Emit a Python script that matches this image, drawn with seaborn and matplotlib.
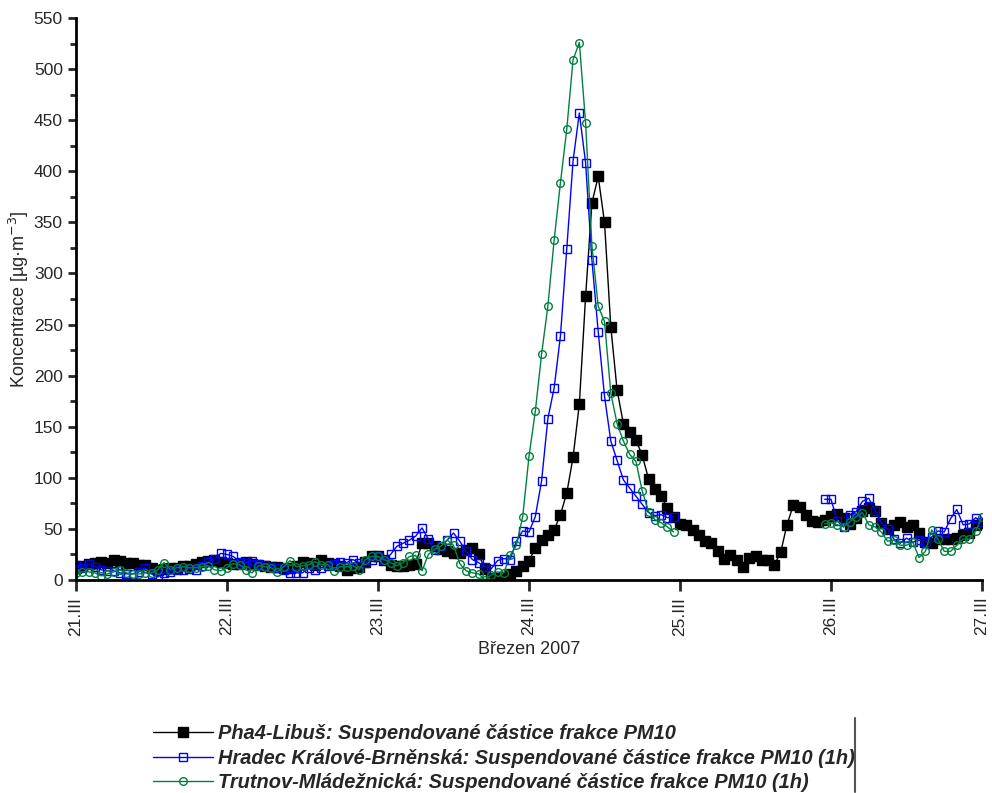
import numpy as np
import pandas as pd
import matplotlib
matplotlib.use("Agg")
import matplotlib.pyplot as plt
from matplotlib.lines import Line2D
import seaborn as sns

# hourly PM10 values, 21.III 00:00 .. 27.III 00:00 (145 points)
nan = np.nan
libus = [12, 14, 16, 17, 18, 17, 20, 19, 17, 17, 15, 15, 12, 10, 11, 12, 12, 14, 14, 16, 18, 19, 20, 18,
         17, 16, 16, 18, 16, 15, 14, 13, 13, 12, 12, 14, 18, 17, 15, 20, 17, 16, 14, 10, 12, 13, 18, 23,
         23, 20, 15, 14, 14, 15, 16, 36, 36, 33, 30, 28, 26, 26, 29, 31, 25, 11, 1, 2, 3, 6, 9, 14,
         19, 31, 39, 44, 49, 64, 85, 120, 172, 278, 369, 395, 350, 248, 186, 153, 145, 137, 122, 99, 89, 82, 70, 62,
         55, 54, 49, 44, 38, 36, 28, 21, 24, 20, 13, 22, 23, 20, 20, 15, 27, 54, 73, 71, 64, 58, 57, 59,
         63, 65, 61, 55, 61, 68, 70, 68, 56, 50, 54, 57, 52, 54, 46, 37, 36, 40, 40, 40, 41, 44, 46, 54, 56]

hradec = [15, 12, 16, 13, 10, 9, 9, 7, 6, 6, 8, 12, 6, 3, 7, 8, 10, 10, 11, 10, 14, 18, 21, 26,
          25, 23, 18, 17, 19, 16, 15, 13, 12, 10, 7, 7, 7, 12, 10, 12, 14, 16, 18, 17, 20, 17, 17, 20,
          23, 20, 25, 33, 36, 39, 43, 51, 40, 29, 33, 39, 46, 38, 28, 20, 17, 13, 11, 19, 21, 20, 38, 48,
          47, 62, 97, 158, 188, 239, 324, 410, 457, 408, 313, 243, 180, 136, 117, 98, 90, 82, 74, 66, 63, 64, 61, 62] \
    + [nan] * 23 + \
    [79, 79, 58, 52, 64, 67, 77, 80, 68, 56, 50, 40, 36, 41, 37, 39, 37, 42, 48, 47, 60, 69, 54, 55, 61, 57]

trutnov = [7, 8, 8, 7, 4, 6, 8, 10, 7, 6, 6, 7, 7, 10, 17, 10, 12, 13, 12, 12, 13, 14, 10, 9,
           12, 16, 15, 10, 7, 14, 13, 12, 8, 13, 19, 13, 14, 15, 18, 15, 15, 9, 13, 13, 14, 10, 20, 23,
           23, 20, 17, 14, 17, 23, 24, 9, 25, 30, 33, 39, 34, 16, 9, 7, 6, 0, 5, 8, 7, 24, 34, 62,
           121, 165, 221, 268, 333, 389, 441, 509, 526, 447, 327, 268, 253, 183, 153, 136, 123, 116, 87, 67, 59, 56, 52, 47] \
    + [nan] * 23 + \
    [55, 56, 54, 52, 57, 62, 66, 54, 52, 47, 38, 39, 34, 34, 37, 22, 28, 49, 40, 28, 28, 34, 40, 40, 48, 62]

day_labels = ["21.III", "22.III", "23.III", "24.III", "25.III", "26.III", "27.III"]
series_names = ["Pha4-Libuš: Suspendované částice frakce PM10",
                "Hradec Králové-Brněnská: Suspendované částice frakce PM10 (1h)",
                "Trutnov-Mládežnická: Suspendované částice frakce PM10 (1h)"]

sns.set_theme(style="white")
plt.rcParams['font.family'] = ['Liberation Sans', 'DejaVu Sans']

hours = np.arange(len(libus))


def to_frame(values):
    df = pd.DataFrame({"hour": hours, "value": values})
    # split into contiguous segments so gaps stay open
    df["seg"] = df["value"].isna().cumsum()
    return df.dropna()


fig = plt.figure(figsize=(9.92, 7.93), dpi=100)
ax = fig.add_axes([76 / 992, 1 - 580 / 793, 906 / 992, 562 / 793])

styles = [
    dict(color="black", marker="s", markersize=6.5, markerfacecolor="black", markeredgecolor="black"),
    dict(color="#0000ff", marker="s", markersize=6, markerfacecolor="none", markeredgecolor="#0000ff"),
    dict(color="#008040", marker="o", markersize=5.5, markerfacecolor="none", markeredgecolor="#008040"),
]

for vals, st in zip([libus, hradec, trutnov], styles):
    sns.lineplot(data=to_frame(vals), x="hour", y="value", units="seg", estimator=None,
                 ax=ax, linewidth=1, markeredgewidth=1, **st)

ax.set_xlim(0, 144)
ax.set_ylim(0, 550)
ax.set_xticks(np.arange(0, 145, 24))
ax.set_xticklabels(day_labels, rotation=90, fontsize=12.5)
ax.set_yticks(np.arange(0, 551, 50))
ax.set_yticks(np.arange(0, 551, 25), minor=True)
ax.tick_params(axis="y", which="major", direction="out", length=6, width=2, labelsize=12.5, left=True)
ax.tick_params(axis="y", which="minor", direction="out", length=4, width=2, left=True)
ax.tick_params(axis="x", which="major", direction="out", length=8, width=2, bottom=True, pad=4)

for s in ["top", "right"]:
    ax.spines[s].set_visible(False)
for s in ["left", "bottom"]:
    ax.spines[s].set_linewidth(2)
    ax.spines[s].set_color("black")

ax.set_xlabel("Březen 2007", fontsize=13, labelpad=4)
ax.set_ylabel(r"Koncentrace [µg·m$^{-3}$]", fontsize=13, labelpad=2)

handles = [Line2D([], [], linewidth=1, markeredgewidth=1, **st) for st in styles]
fig.legend(handles, series_names, loc="upper left", bbox_to_anchor=(135 / 992, 1 - 706 / 793),
           frameon=False, handlelength=3.0, handletextpad=0.25, labelspacing=0.28,
           prop=dict(size=14.4, weight="bold", style="italic"))
fig.add_artist(Line2D([855 / 992, 855 / 992], [1 - 718 / 793, 1 - 792 / 793],
                      color="#555555", linewidth=1.5, transform=fig.transFigure))

fig.savefig("out.png", dpi=100)
